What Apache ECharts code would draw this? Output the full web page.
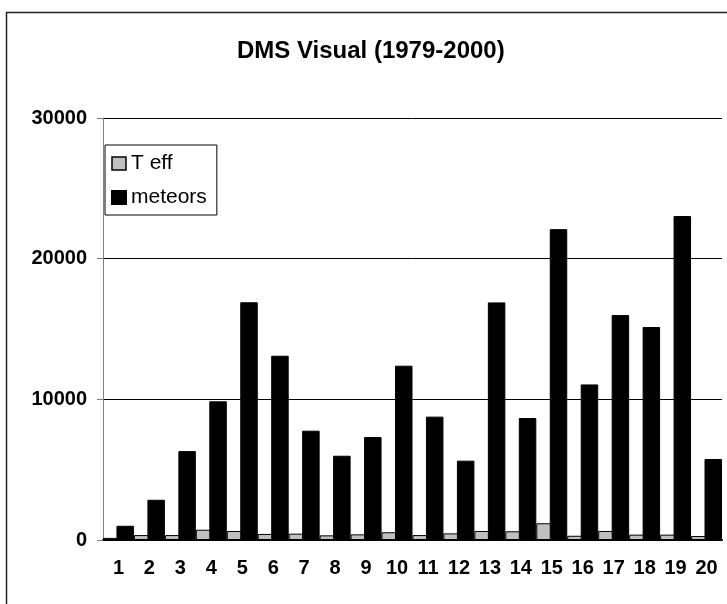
<!DOCTYPE html>
<html>
<head>
<meta charset="utf-8">
<script src="https://cdn.jsdelivr.net/npm/echarts@6/dist/echarts.min.js"></script>
<style>
  html, body { margin: 0; padding: 0; background: #fff; }
  #main { width: 727px; height: 604px; }
</style>
</head>
<body>
<div id="main"></div>
<script>
// values
const categories = ['1', '2', '3', '4', '5', '6', '7', '8', '9', '10',
                    '11', '12', '13', '14', '15', '16', '17', '18', '19', '20'];
const teff = [150, 350, 350, 730, 640, 430, 450, 330, 400, 550,
              350, 470, 640, 620, 1190, 300, 640, 380, 380, 280];
const meteors = [1010, 2860, 6320, 9860, 16900, 13100, 7770, 5990, 7320, 12390,
                 8770, 5640, 16890, 8670, 22100, 11060, 15990, 15140, 23030, 5760];
const yTicks = [0, 10000, 20000, 30000];

const font = 'Arial, "Liberation Sans", sans-serif';

const chart = echarts.init(document.getElementById('main'));
chart.setOption({
    animation: false,
    backgroundColor: '#fff',
    title: {
        text: 'DMS Visual (1979-2000)',
        left: 232,
        top: 34,
        textStyle: { fontFamily: font, fontSize: 24, fontWeight: 'bold', color: '#000' }
    },
    graphic: [{
        type: 'rect',
        shape: { x: 6.5, y: 12.5, width: 900, height: 900 },
        style: { fill: null, stroke: '#222', lineWidth: 1.5 },
        silent: true
    }],
    legend: {
        orient: 'vertical',
        left: 105,
        top: 145,
        padding: [8, 10, 7, 6],
        itemGap: 13,
        itemWidth: 14,
        itemHeight: 13,
        icon: 'rect',
        backgroundColor: '#fff',
        borderColor: '#000',
        borderWidth: 1,
        textStyle: { fontFamily: font, fontSize: 21, color: '#000' },
        data: [
            { name: 'T eff', itemStyle: { color: '#c0c0c0', borderColor: '#000', borderWidth: 1.5 } },
            { name: 'meteors', itemStyle: { color: '#000' } }
        ]
    },
    grid: { left: 103, right: 5, top: 118, bottom: 64 },
    xAxis: {
        type: 'category',
        data: categories,
        axisLine: { lineStyle: { color: '#000', width: 2 } },
        axisTick: { alignWithLabel: false, length: 6, lineStyle: { color: '#808080' } },
        axisLabel: { margin: 18, fontFamily: font, fontSize: 20, fontWeight: 'bold', color: '#000' }
    },
    yAxis: {
        type: 'value',
        min: yTicks[0],
        max: yTicks[yTicks.length - 1],
        interval: 10000,
        axisLine: { show: true, lineStyle: { color: '#808080', width: 1 } },
        axisTick: { show: true, length: 6, lineStyle: { color: '#808080' } },
        axisLabel: {
            margin: 16, fontFamily: font, fontSize: 20, fontWeight: 'bold', color: '#000',
            formatter: v => String(v)
        },
        splitLine: { lineStyle: { color: '#000', width: 1 } }
    },
    series: [
        {
            name: 'T eff',
            type: 'bar',
            data: teff,
            barGap: '-23%',
            barCategoryGap: '0%',
            itemStyle: { color: '#c0c0c0', borderColor: '#000', borderWidth: 1 }
        },
        {
            name: 'meteors',
            type: 'bar',
            data: meteors,
            barGap: '-23%',
            barCategoryGap: '0%',
            itemStyle: { color: '#000', borderColor: '#000', borderWidth: 1 }
        }
    ]
});
</script>
</body>
</html>
